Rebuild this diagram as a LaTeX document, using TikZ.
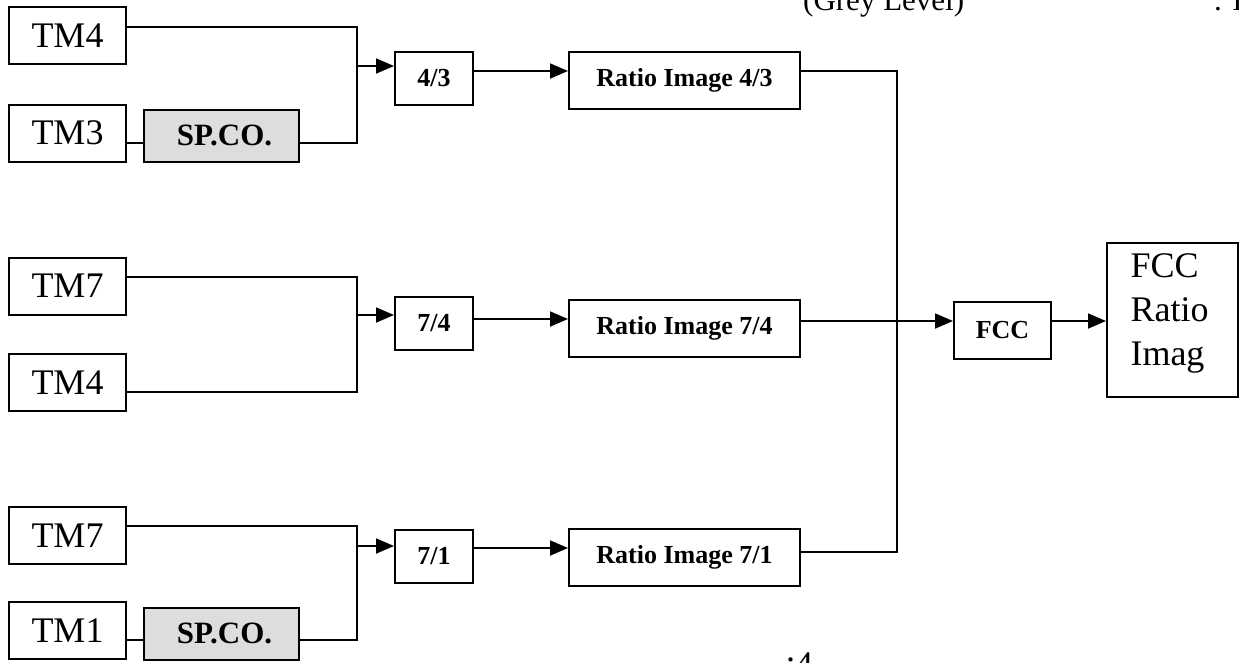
\documentclass[tikz,border=0pt]{standalone}
\usepackage{fontspec}
\setmainfont{Liberation Serif}
\usetikzlibrary{arrows.meta}
\definecolor{spgrey}{HTML}{DDDDDD}

\begin{document}
\begin{tikzpicture}[
        x=1pt,y=-1pt,>=Latex,
        band/.style={draw,line width=2pt,inner sep=0pt,minimum width=117pt,minimum height=57pt,
          font=\fontsize{36}{44}\selectfont},
        corr/.style={draw,line width=2pt,fill=spgrey,inner sep=0pt,minimum width=155pt,minimum height=52pt,
          font=\fontsize{31}{36}\selectfont\bfseries},
        ratio/.style={draw,line width=2pt,inner sep=0pt,minimum width=78pt,minimum height=53pt,
          font=\fontsize{26}{30}\selectfont\bfseries},
        rimg/.style={draw,line width=2pt,inner sep=0pt,minimum width=231pt,minimum height=57pt,
          font=\fontsize{26}{30}\selectfont\bfseries},
        wire/.style={line width=1.8pt},
        feed/.style={-{Triangle[length=18pt,width=15pt]},line width=1.8pt}
      ]
        \useasboundingbox (0,0) rectangle (1239,662);
        % top caption, cut by the page edge
        \node[anchor=base west,inner sep=0pt,font=\fontsize{31}{36}\selectfont] (cap) at (803,10) {(Grey Level)};
        \node[anchor=base west,inner sep=0pt,font=\fontsize{31}{36}\selectfont] (capr) at (1214,10) {. I};
        % band 4/3
        \node[band] (tmA) at (67.5,35.5) {TM4};
        \node[band] (tmB) at (67.5,133) {TM3};
        \node[corr] (spA) at (221.5,135.5) {\hspace{6pt}SP.CO.};
        \node[ratio] (rA) at (434,78) {4/3};
        \node[rimg] (imgA) at (684.5,80.5) {Ratio Image 4/3};
        % band 7/4
        \node[band] (tmC) at (67.5,286) {TM7};
        \node[band] (tmD) at (67.5,382.5) {TM4};
        \node[ratio] (rB) at (434,323) {7/4};
        \node[rimg] (imgB) at (684.5,328) {Ratio Image 7/4};
        % band 7/1
        \node[band] (tmE) at (67.5,535.5) {TM7};
        \node[band] (tmF) at (67.5,630.5) {TM1};
        \node[corr] (spB) at (221.5,633.5) {\hspace{6pt}SP.CO.};
        \node[ratio] (rC) at (434,556) {7/1};
        \node[rimg] (imgC) at (684.5,557) {Ratio Image 7/1};
        % composite
        \node[draw,line width=2pt,inner sep=0pt,minimum width=97pt,minimum height=57pt,
          font=\fontsize{26}{30}\selectfont\bfseries] (fcc) at (1002.5,330.5) {FCC};
        \node[draw,line width=2pt,inner sep=0pt,minimum width=131pt,minimum height=154pt,
          label={[yshift=7pt,xshift=-3pt,align=left,font=\fontsize{36}{44}\selectfont]center:FCC\\Ratio\\Imag}] (out) at (1172.5,320) {};
        \node[anchor=base west,inner sep=0pt,font=\fontsize{36}{44}\selectfont] (pg) at (786,676) {\raisebox{15pt}{.}4};

        \coordinate (jA) at (357,66);
        \coordinate (jB) at (357,315);
        \coordinate (jC) at (357,546);
        \coordinate (busT) at (897,71);
        \coordinate (busB) at (897,552);

        \draw[wire] ([yshift=8.5pt]tmA.east) -| (jA);
        \draw[wire] ([yshift=-10pt]tmB.east) -- ([yshift=-7.5pt]spA.west);
        \draw[wire] ([yshift=-7.5pt]spA.east) -| (jA);
        \draw[feed] (jA) -- (jA -| rA.west);
        \draw[feed] ([yshift=7pt]rA.east) -- ([yshift=9.5pt]imgA.west);

        \draw[wire] ([yshift=9pt]tmC.east) -| (jB);
        \draw[wire] ([yshift=-9.5pt]tmD.east) -| (jB);
        \draw[feed] (jB) -- (jB -| rB.west);
        \draw[feed] ([yshift=4pt]rB.east) -- ([yshift=9pt]imgB.west);

        \draw[wire] ([yshift=9.5pt]tmE.east) -| (jC);
        \draw[wire] ([yshift=-9.5pt]tmF.east) -- ([yshift=-6.5pt]spB.west);
        \draw[wire] ([yshift=-6.5pt]spB.east) -| (jC);
        \draw[feed] (jC) -- (jC -| rC.west);
        \draw[feed] ([yshift=8pt]rC.east) -- ([yshift=9pt]imgC.west);

        \draw[wire] (imgA.east |- busT) -- (busT) -- (busB) -- (imgC.east |- busB);
        \draw[feed] ([yshift=7pt]imgB.east) -- ([yshift=9.5pt]fcc.west);
        \draw[feed] ([yshift=9.5pt]fcc.east) -- ([yshift=-1pt]out.west);
      \end{tikzpicture}
\end{document}
